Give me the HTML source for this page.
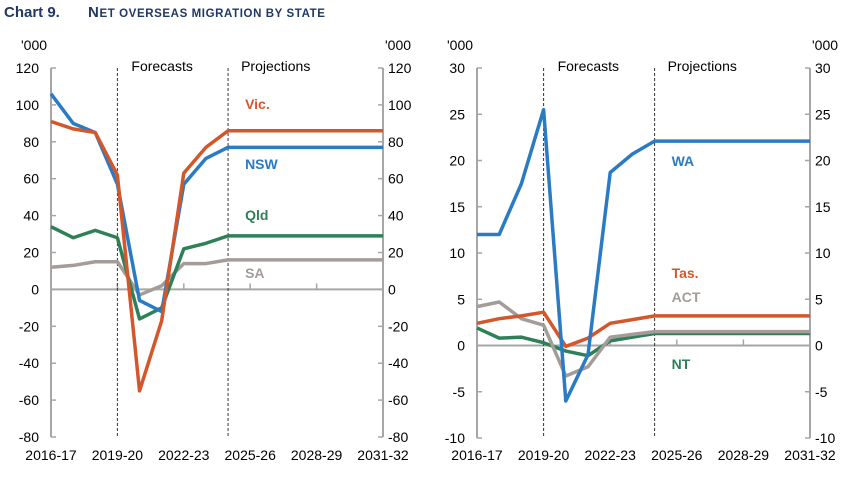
<!DOCTYPE html>
<html><head><meta charset="utf-8"><style>
body{margin:0;background:#fff;width:859px;height:475px;overflow:hidden;font-family:"Liberation Sans",Arial,sans-serif}
svg text{font-family:"Liberation Sans",Arial,sans-serif}
</style></head><body>
<svg id="c" width="859" height="475">
<text x="4" y="17" font-size="15" font-weight="bold" fill="#1f3864">Chart 9.</text>
<text x="88" y="17" font-size="15" font-weight="bold" fill="#1f3864" letter-spacing="0.6">N<tspan font-size="11.5">ET OVERSEAS MIGRATION BY STATE</tspan></text>
</svg>
<script>
const xLabels=["2016-17","2019-20","2022-23","2025-26","2028-29","2031-32"];
const leftTicks=[120,100,80,60,40,20,0,-20,-40,-60,-80];
const rightTicks=[30,25,20,15,10,5,0,-5,-10];
const nsw=[106,90,85,57,-6,-12,57,71,77,77,77,77,77,77,77,77];
const vic=[91,87,85,62,-55,-17,63,77,86,86,86,86,86,86,86,86];
const qld=[34,28,32,28,-16,-10,22,25,29,29,29,29,29,29,29,29];
const sa=[12,13,15,15,-3,2,14,14,16,16,16,16,16,16,16,16];
const wa=[12,12,17.5,25.5,-6,-1,18.7,20.7,22.1,22.1,22.1,22.1,22.1,22.1,22.1,22.1];
const tas=[2.4,2.9,3.2,3.6,-0.1,0.8,2.4,2.8,3.2,3.2,3.2,3.2,3.2,3.2,3.2,3.2];
const act=[4.2,4.7,2.9,2.2,-3.3,-2.3,0.9,1.2,1.5,1.5,1.5,1.5,1.5,1.5,1.5,1.5];
const nt=[1.9,0.8,0.9,0.3,-0.6,-1.1,0.5,0.9,1.3,1.3,1.3,1.3,1.3,1.3,1.3,1.3];
const svg=document.getElementById('c');const NS="http://www.w3.org/2000/svg";
function mk(t,a,txt){const e=document.createElementNS(NS,t);for(const k in a)e.setAttribute(k,a[k]);if(txt!==undefined)e.textContent=txt;svg.appendChild(e);return e;}
function panel(p){
 const X=i=>p.x0+i*(p.x1-p.x0)/15;
 const Y=v=>p.yTop+(p.max-v)*(p.yBot-p.yTop)/(p.max-p.min);
 let e;
 e=mk('line',{x1:p.x0,x2:p.x0,y1:p.yTop,y2:p.yBot,stroke:'#a6a6a6','stroke-width':2});
 
 e=mk('line',{x1:p.x1,x2:p.x1,y1:p.yTop,y2:p.yBot,stroke:'#a6a6a6','stroke-width':2});
 
 e=mk('line',{x1:p.x0,x2:p.x1,y1:Y(0),y2:Y(0),stroke:'#a6a6a6','stroke-width':2});
 
 p.ticks.forEach(t=>{
  mk('line',{x1:p.x0,x2:p.x0+5,y1:Y(t),y2:Y(t),stroke:'#a6a6a6','stroke-width':1.5});
  mk('line',{x1:p.x1-5,x2:p.x1,y1:Y(t),y2:Y(t),stroke:'#a6a6a6','stroke-width':1.5});
  e=mk('text',{x:p.x0-12,y:Y(t)+5,'font-size':14,'text-anchor':'end',fill:'#000'},String(t));
  
  e=mk('text',{x:p.x1+5,y:Y(t)+5,'font-size':14,fill:'#000'},String(t));
  
 });
 xLabels.forEach((l,k)=>{
  const x=X(k*3);
  if(k>0&&k<5)mk('line',{x1:x,x2:x,y1:Y(0),y2:Y(0)-6,stroke:'#a6a6a6','stroke-width':1.5});
  e=mk('text',{x:x,y:460,'font-size':14,'text-anchor':'middle',fill:'#000'},l);
  
 });
 [3,8].forEach(i=>{e=mk('line',{x1:X(i),x2:X(i),y1:p.yTop,y2:p.yBot,stroke:'#333','stroke-width':1,'stroke-dasharray':'3,2'});
  });
 e=mk('text',{x:X(3)+14,y:71,'font-size':14,fill:'#000'},'Forecasts');
 
 e=mk('text',{x:X(8)+13,y:71,'font-size':14,fill:'#000'},'Projections');
 
 e=mk('text',{x:p.x0-30,y:50,'font-size':14,fill:'#000'},"'000");
 
 e=mk('text',{x:p.x1+2,y:50,'font-size':14,fill:'#000'},"'000");
 
 p.series.forEach(s=>{
  e=mk('polyline',{points:s.d.map((v,i)=>X(i)+','+Y(v)).join(' '),fill:'none',stroke:s.c,'stroke-width':3.5,'stroke-linejoin':'round'});
  
  e=mk('text',{x:X(8)+17,y:s.ly,'font-size':14,'font-weight':'bold',fill:s.c},s.n);
  
 });
}
panel({id:'left-panel',x0:51,x1:383,yTop:68,yBot:437,max:120,min:-80,ticks:leftTicks,series:[
 {n:'SA',d:sa,c:'#a39c99',ly:278},{n:'Qld',d:qld,c:'#2e8059',ly:220},{n:'NSW',d:nsw,c:'#2a7bc4',ly:169},{n:'Vic.',d:vic,c:'#d4572c',ly:109}]});
panel({id:'right-panel',x0:477,x1:810,yTop:68,yBot:438,max:30,min:-10,ticks:rightTicks,series:[
 {n:'NT',d:nt,c:'#2e8059',ly:369},{n:'ACT',d:act,c:'#a39c99',ly:302},{n:'Tas.',d:tas,c:'#d4572c',ly:278},{n:'WA',d:wa,c:'#2a7bc4',ly:166}]});
</script>
</body></html>
